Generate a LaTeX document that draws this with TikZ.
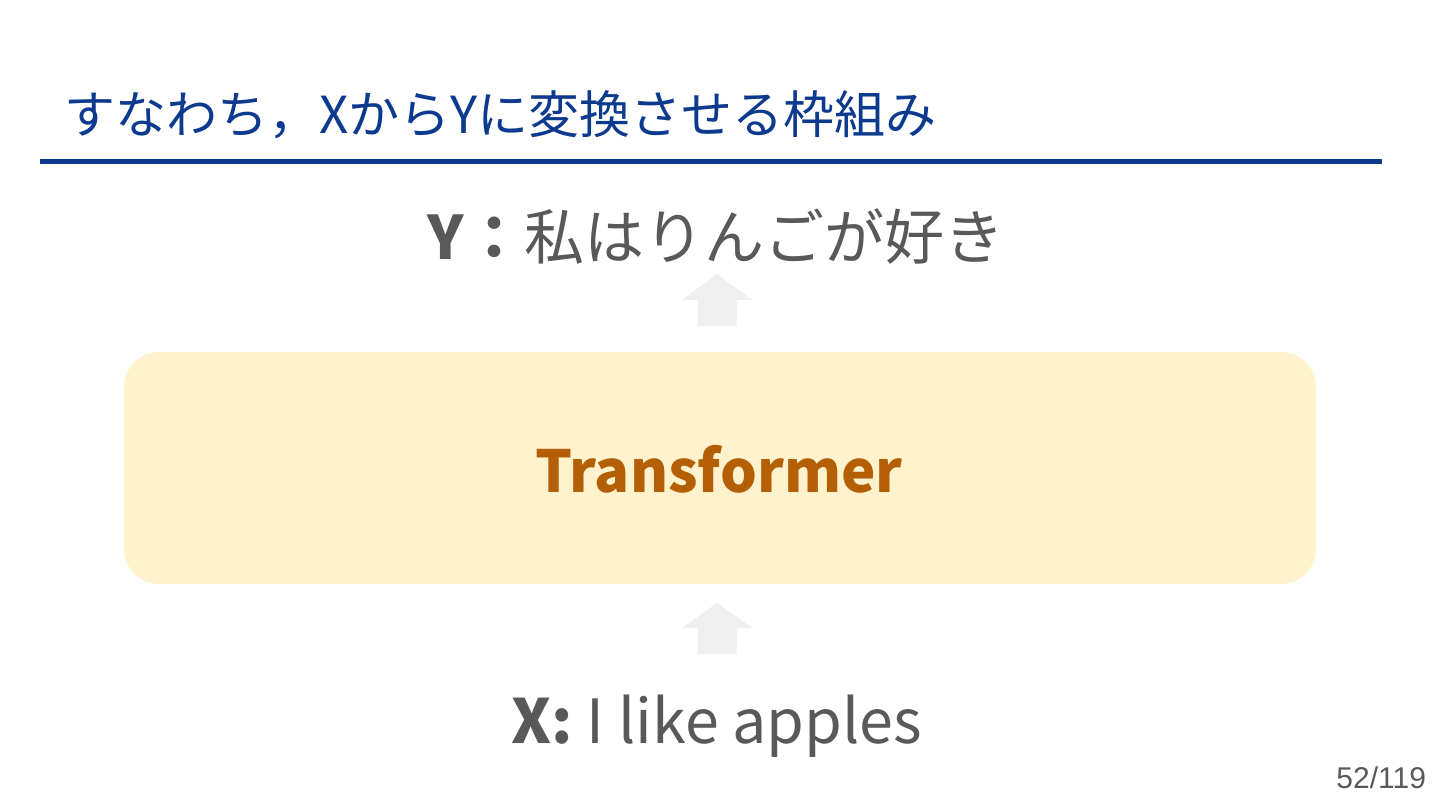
\documentclass[tikz,border=0pt]{standalone}
\usepackage{fontspec}
\setmainfont{Noto Sans CJK JP}
\newfontfamily\pagefont{Liberation Sans}
\definecolor{titleblue}{HTML}{0C3A8E}
\definecolor{textgray}{HTML}{595959}
\definecolor{boxfill}{HTML}{FFF2CC}
\definecolor{boxtext}{HTML}{B45F06}
\definecolor{arrowgray}{HTML}{EFEFEF}
\tikzset{
  txt/.style={inner sep=0pt, outer sep=0pt},
  bigarrow/.style={fill=arrowgray, draw=none},
  tbox/.style={fill=boxfill, draw=none, rounded corners=35pt}
}
\begin{document}
\begin{tikzpicture}[x=1pt,y=-1pt]
\useasboundingbox[fill=white] (0,0) rectangle (1440,810);
% title
\node[txt, anchor=base west, text=titleblue] (title) at (64,134)
  {\fontsize{51}{60}\selectfont すなわち，XからYに変換させる枠組み};
\coordinate (ruleL) at (40,162);
\coordinate (ruleR) at (1382,162);
\draw[titleblue, line width=5pt] (ruleL) -- (ruleR);
% Y line
\node[txt, anchor=base, text=textgray] (ytext) at (716,260)
  {\fontsize{60}{72}\selectfont \textbf{Y：}私はりんごが好き};
% box
\node[tbox, minimum width=1192pt, minimum height=232pt] (box) at (720,468) {};
\node[txt, anchor=base, text=boxtext] (tlabel) at (719,492)
  {\fontsize{58}{70}\selectfont\bfseries Transformer};
% X line
\node[txt, anchor=base, text=textgray] (xtext) at (717,743)
  {\fontsize{61}{72}\selectfont \textbf{X:} I like apples};
% arrows
\coordinate (a1) at (717,326);
\fill[bigarrow] (a1) ++(-19.5,0) -- ++(0,-26) -- ++(-15.5,0) -- (717,274) -- (752,300) -- ++(-15.5,0) -- ++(0,26) -- cycle;
\coordinate (a2) at (717,654);
\fill[bigarrow] (a2) ++(-19.5,0) -- ++(0,-26) -- ++(-15.5,0) -- (717,603) -- (752,628) -- ++(-15.5,0) -- ++(0,26) -- cycle;
% page number
\node[txt, anchor=base east, text=textgray] (page) at (1426,788)
  {\pagefont\fontsize{30}{36}\selectfont 52/119};
\end{tikzpicture}
\end{document}
